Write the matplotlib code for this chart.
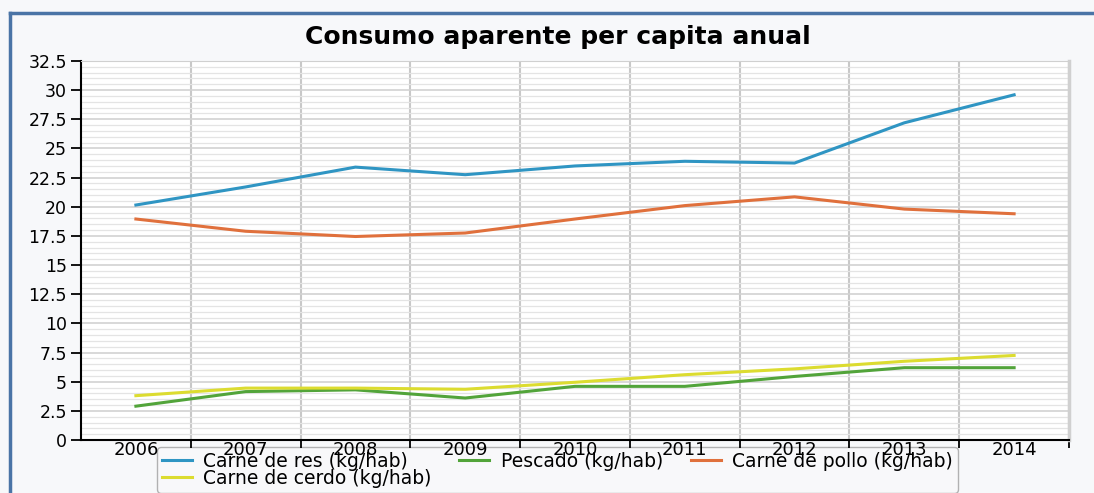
import numpy as np
import matplotlib.pyplot as plt
from matplotlib.ticker import MultipleLocator, FixedLocator, NullFormatter, FixedFormatter

years = ["2006", "2007", "2008", "2009", "2010", "2011", "2012", "2013", "2014"]
carne_res = [20.15, 21.7, 23.4, 22.75, 23.5, 23.9, 23.75, 27.2, 29.6]
pescado = [2.9, 4.15, 4.3, 3.6, 4.6, 4.6, 5.45, 6.2, 6.2]
carne_pollo = [18.95, 17.9, 17.45, 17.75, 18.95, 20.1, 20.85, 19.8, 19.4]
carne_cerdo = [3.8, 4.45, 4.45, 4.35, 4.95, 5.6, 6.1, 6.75, 7.25]

series = [
    ("Carne de res (kg/hab)", carne_res, "#2f95c3"),
    ("Pescado (kg/hab)", pescado, "#52a43a"),
    ("Carne de pollo (kg/hab)", carne_pollo, "#e0703c"),
    ("Carne de cerdo (kg/hab)", carne_cerdo, "#dcdc30"),
]

fig = plt.figure(figsize=(10.94, 4.93), dpi=100)
fig.patch.set_facecolor("#f7f8fa")

# blue frame lines at top and left
fig.add_artist(plt.Line2D([10 / 1094, 1.0], [1 - 13 / 493] * 2, color="#4a74a6", lw=2.5))
fig.add_artist(plt.Line2D([10 / 1094] * 2, [0, 1 - 13 / 493], color="#4a74a6", lw=2.5))

ax = fig.add_axes([81 / 1094, 1 - 440 / 493, 988 / 1094, 379 / 493])
ax.set_facecolor("white")

x = np.arange(len(years))
handles = {}
for name, vals, col in series:
    (ln,) = ax.plot(x, vals, color=col, lw=2.2, label=name, solid_joinstyle="round")
    handles[name] = ln

ax.set_xlim(-0.5, len(years) - 0.5)
ax.set_ylim(0, 32.5)

# y axis
ax.yaxis.set_major_locator(MultipleLocator(2.5))
ax.yaxis.set_minor_locator(MultipleLocator(0.5))
ax.yaxis.set_major_formatter(plt.FuncFormatter(lambda v, p: f"{v:g}"))
ax.tick_params(axis="y", which="major", direction="out", length=7, width=1.3,
               labelsize=12.5, colors="black", pad=3)
ax.tick_params(axis="y", which="minor", length=0)

# x axis: ticks at boundaries, labels at centres
ax.xaxis.set_major_locator(FixedLocator(np.arange(0.5, len(years) - 0.5 + 0.01, 1.0)))
ax.xaxis.set_major_formatter(NullFormatter())
ax.xaxis.set_minor_locator(FixedLocator(x))
ax.xaxis.set_minor_formatter(FixedFormatter(years))
ax.tick_params(axis="x", which="major", direction="out", length=6, width=1.3)
ax.tick_params(axis="x", which="minor", length=0, labelsize=13, pad=1)

ax.grid(axis="x", which="major", color="#c8c8c8", lw=1.5)
ax.grid(axis="y", which="major", color="#d2d2d2", lw=1.2)
ax.grid(axis="y", which="minor", color="#e4e4e4", lw=0.9)
ax.set_axisbelow(True)

for s in ["top", "right"]:
    ax.spines[s].set_color("#d0d0d0")
ax.spines["right"].set_linewidth(2.5)
for s in ["left", "bottom"]:
    ax.spines[s].set_color("black")
    ax.spines[s].set_linewidth(1.5)

fig.text(558 / 1094, 1 - 37 / 493, "Consumo aparente per capita anual",
         ha="center", va="center", fontsize=18, fontweight="bold")

order = ["Carne de res (kg/hab)", "Carne de cerdo (kg/hab)",
         "Pescado (kg/hab)", "Carne de pollo (kg/hab)"]
leg = fig.legend([handles[n] for n in order], order, ncol=3,
                 loc="upper left", bbox_to_anchor=(157 / 1094, 1 - 447 / 493),
                 borderaxespad=0, fontsize=13.5, frameon=True, fancybox=True,
                 handlelength=1.6, borderpad=0.25, labelspacing=-0.1,
                 columnspacing=1.5, handletextpad=0.6)
leg.get_frame().set_facecolor("#f9f9fa")
leg.get_frame().set_edgecolor("#a0a0a0")
# draw the legend beneath the axes so the year labels stay visible on top
leg.set_zorder(-1)

fig.savefig("out.png", dpi=100, facecolor=fig.get_facecolor())
